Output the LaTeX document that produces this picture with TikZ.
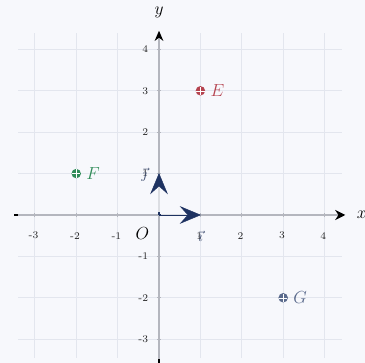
\documentclass[tikz,border=0pt]{standalone}
\usetikzlibrary{arrows.meta}
\definecolor{bgc}{HTML}{F7F8FC}
\definecolor{gridc}{HTML}{E3E6EE}
\definecolor{axc}{HTML}{B4B6BE}
\definecolor{navy}{HTML}{1E3261}
\definecolor{vlab}{HTML}{3E4D70}
\definecolor{ecol}{HTML}{B5434F}
\definecolor{fcol}{HTML}{2E8B57}
\definecolor{gcol}{HTML}{5A6A8C}
\definecolor{tickc}{HTML}{222222}
\begin{document}
\begin{tikzpicture}[x=1cm,y=1cm,
  gridline/.style={draw=gridc,line width=0.6pt},
  axis/.style={draw=axc,line width=0.9pt},
  ticklab/.style={font=\scriptsize,text=tickc,inner sep=1pt},
  vecshaft/.style={draw=navy,line width=2pt},
  vecinner/.style={draw=bgc!60!axc,line width=0.7pt},
  vechead/.style={fill=navy,draw=navy,line width=0.3pt,line join=miter},
  ptdot/.style={circle,fill=#1,minimum size=6.5pt,inner sep=0pt},
  ptlab/.style={anchor=west,font=\large,text=#1,inner sep=0pt}]
\fill[bgc] (-3.841,-3.575) rectangle (4.976,5.193);
\useasboundingbox (-3.841,-3.575) rectangle (4.976,5.193);
% grid
\foreach \i in {-3,...,4}{
  \draw[gridline] (\i,-3.45) -- (\i,4.4);
  \draw[gridline] (-3.4,\i) -- (4.42,\i);
}
% axes
\coordinate (xs) at (-3.5,0);
\coordinate (xe) at (4.5,0);
\coordinate (ys) at (0,-3.6);
\coordinate (ye) at (0,4.45);
\draw[axis,-{Stealth[length=7pt,width=7pt,black]}] (xs) -- (xe);
\draw[axis,-{Stealth[length=7pt,width=6pt,black]}] (ys) -- (ye);
\draw[black,line width=0.8pt] (-3.5,0) -- (-3.4,0);
\draw[black,line width=0.8pt] (0,-3.575) -- (0,-3.48);
\node[font=\large,inner sep=0pt] (xl) at (4.9,0) {$x$};
\node[font=\large,inner sep=0pt] (yl) at (0,4.9) {$y$};
% ticks and labels
\foreach \i in {-3,-2,-1,1,2,3,4}{
  \draw[axc,line width=0.6pt] (\i,-0.05) -- (\i,0.05);
  \draw[axc,line width=0.6pt] (-0.05,\i) -- (0.05,\i);
  \node[ticklab] (tx\i) at (\i-0.03,-0.5) {\i};
  \node[ticklab,anchor=east] (ty\i) at (-0.22,\i) {\i};
}
\node[font=\large,inner sep=0pt] (O) at (-0.4,-0.45) {$O$};
% unit vectors
\coordinate (o) at (0,0);
\coordinate (i1) at (1,0);
\coordinate (j1) at (0,1);
\coordinate (i0) at (0.72,0);
\coordinate (j0) at (0,0.72);
\draw[vecshaft] (o) -- (i0);
\draw[vecshaft] (o) -- (j0);
\draw[vecinner] (0.06,0) -- (i0);
\draw[vecinner] (0,0.06) -- (j0);
\fill[vechead] (i1) -- (0.52,0.2) -- (0.7,0) -- (0.52,-0.2) -- cycle;
\fill[vechead] (j1) -- (0.2,0.52) -- (0,0.7) -- (-0.2,0.52) -- cycle;
\node[text=vlab,inner sep=0pt] (il) at (1,-0.52) {$\vec{\imath}$};
\node[text=vlab,inner sep=0pt] (jl) at (-0.36,0.97) {$\vec{\jmath}$};
% points
\foreach \n/\px/\py/\c in {E/1/3/ecol,F/-2/1/fcol,G/3/-2/gcol}{
  \node[ptdot=\c] (p\n) at (\px,\py) {};
  \draw[white,line width=0.3pt] (\px-0.1,\py) -- (\px+0.1,\py) (\px,\py-0.1) -- (\px,\py+0.1);
  \node[ptlab=\c] (l\n) at (\px+0.24,\py) {$\n$};
}
\end{tikzpicture}
\end{document}
